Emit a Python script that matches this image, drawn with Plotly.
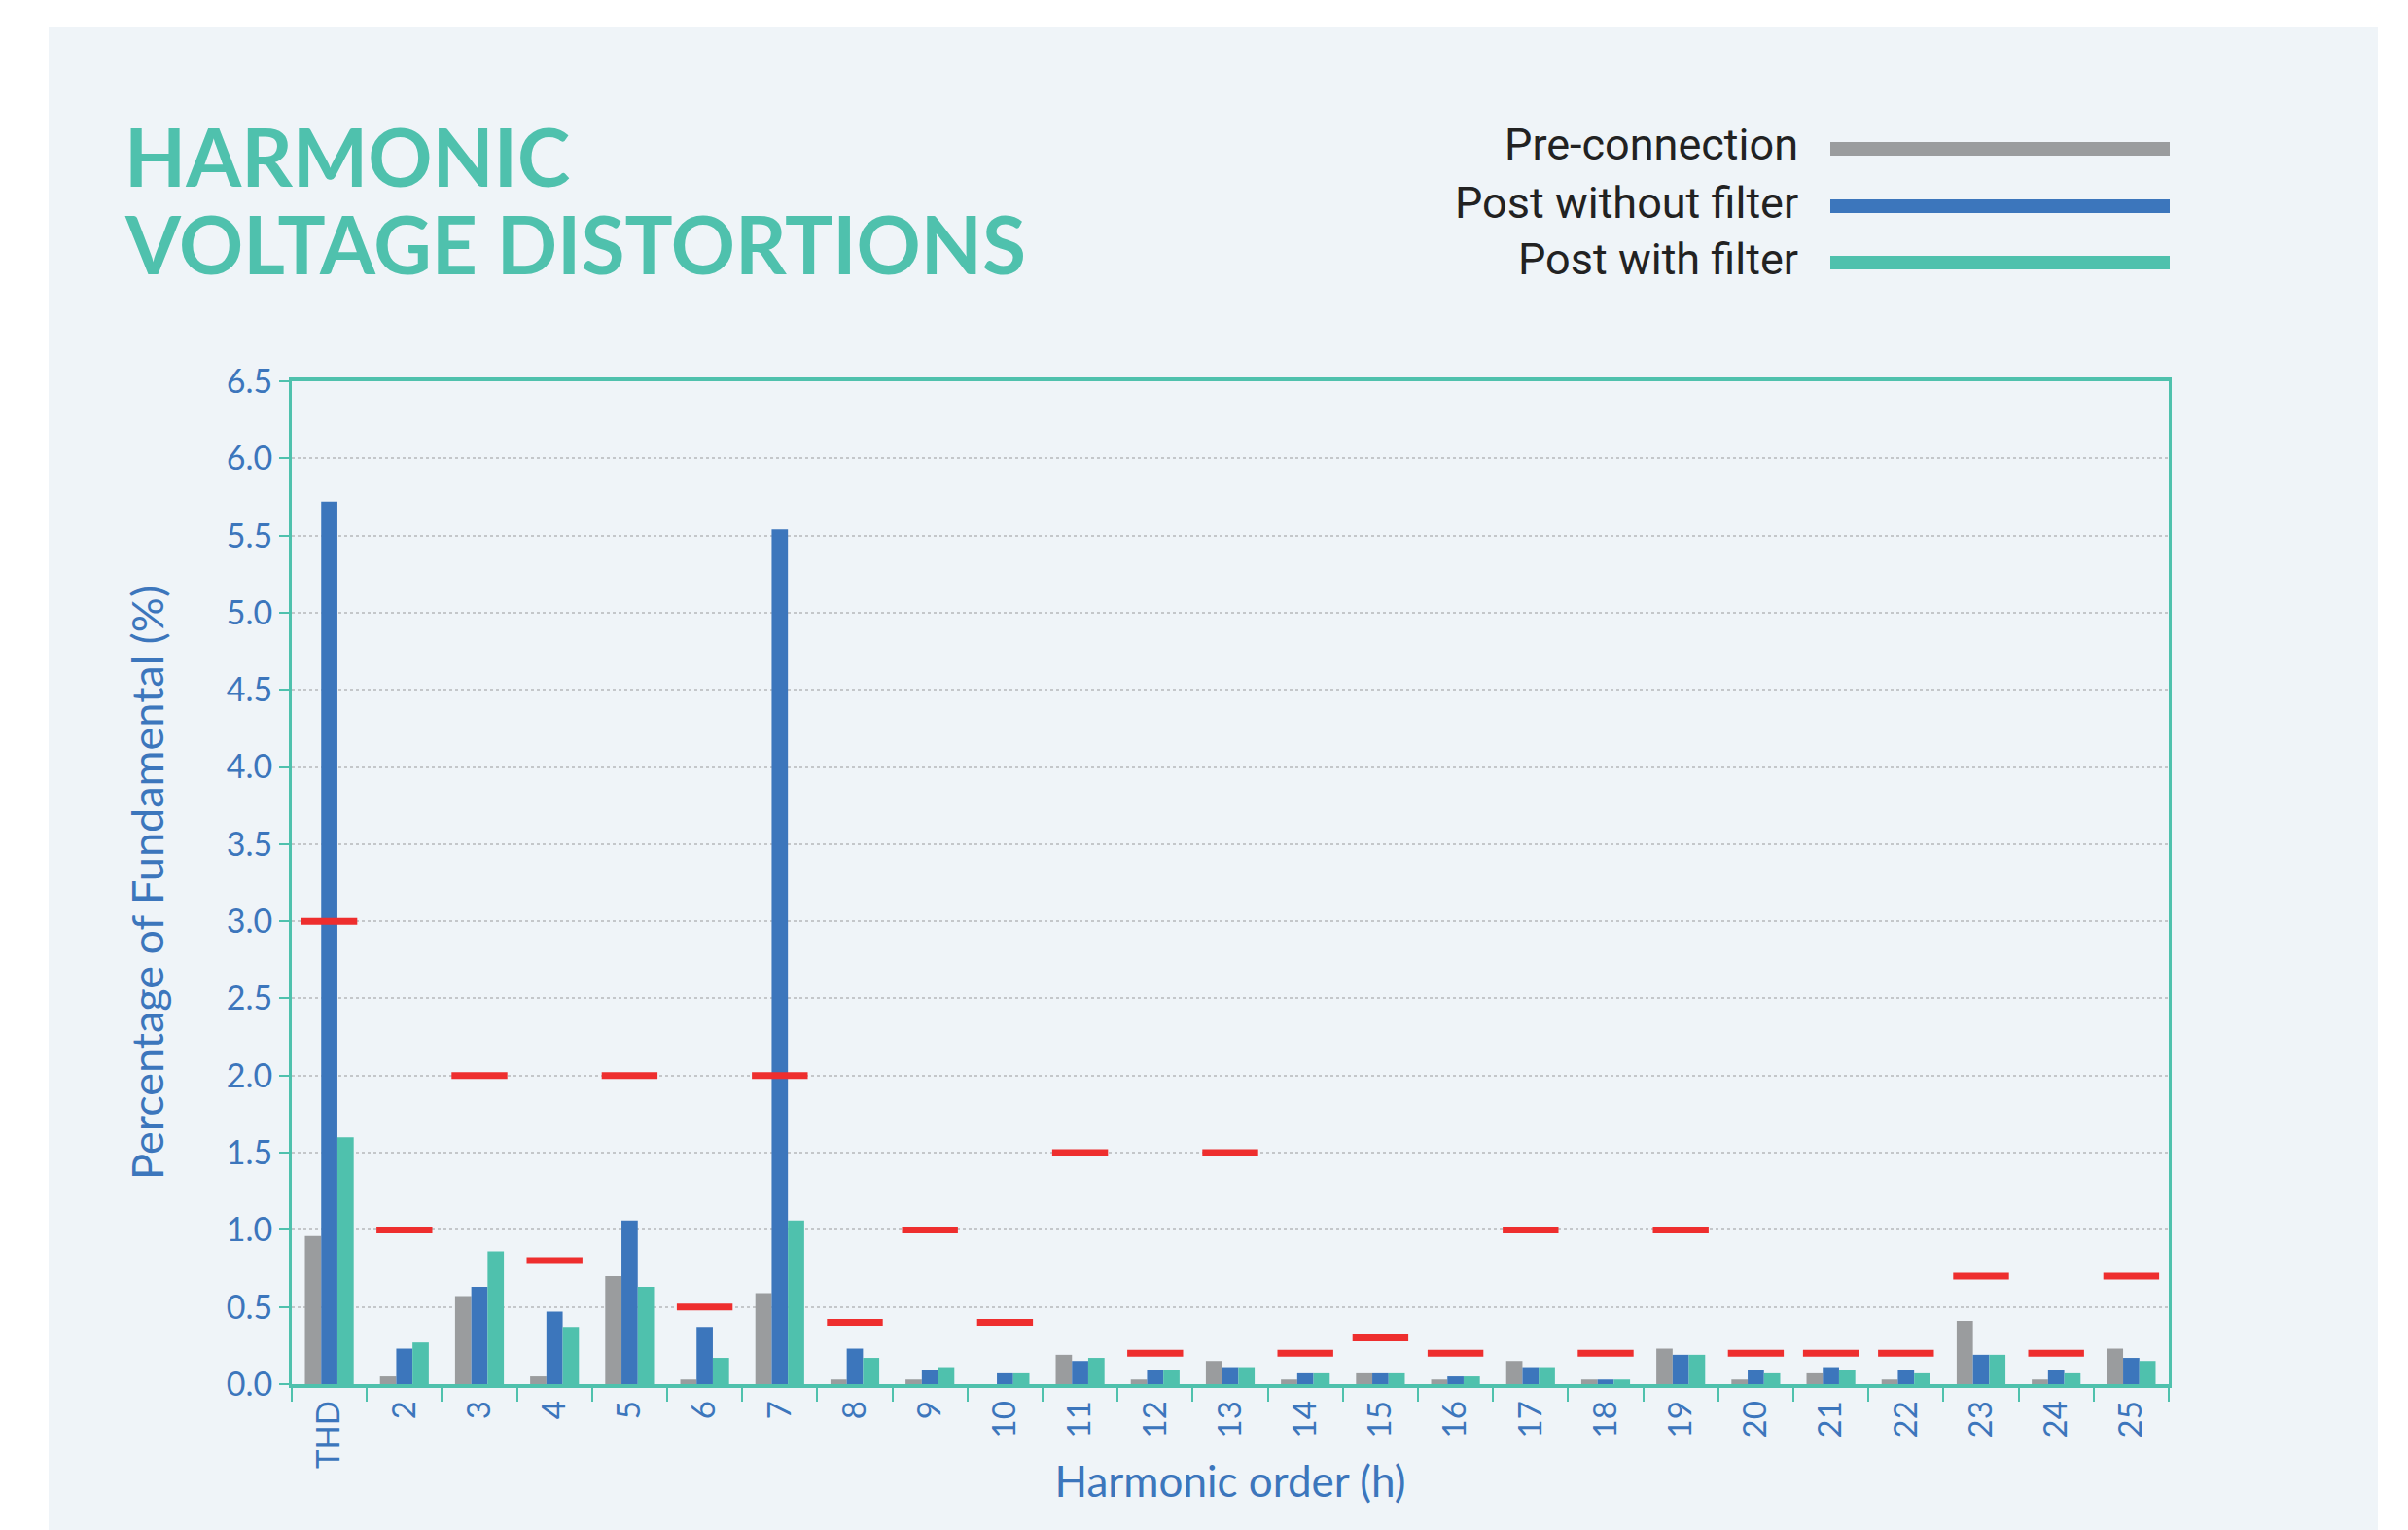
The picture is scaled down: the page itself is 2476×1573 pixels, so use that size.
import plotly.graph_objects as go

categories = ["THD"] + [str(h) for h in range(2, 26)]
pre_connection = [0.96, 0.05, 0.57, 0.05, 0.70, 0.03, 0.59, 0.03, 0.03, 0.00, 0.19, 0.03, 0.15,
                  0.03, 0.07, 0.03, 0.15, 0.03, 0.23, 0.03, 0.07, 0.03, 0.41, 0.03, 0.23]
post_without_filter = [5.72, 0.23, 0.63, 0.47, 1.06, 0.37, 5.54, 0.23, 0.09, 0.07, 0.15, 0.09, 0.11,
                       0.07, 0.07, 0.05, 0.11, 0.03, 0.19, 0.09, 0.11, 0.09, 0.19, 0.09, 0.17]
post_with_filter = [1.60, 0.27, 0.86, 0.37, 0.63, 0.17, 1.06, 0.17, 0.11, 0.07, 0.17, 0.09, 0.11,
                    0.07, 0.07, 0.05, 0.11, 0.03, 0.19, 0.07, 0.09, 0.07, 0.19, 0.07, 0.15]
limits = [3.0, 1.0, 2.0, 0.8, 2.0, 0.5, 2.0, 0.4, 1.0, 0.4, 1.5, 0.2, 1.5,
          0.2, 0.3, 0.2, 1.0, 0.2, 1.0, 0.2, 0.2, 0.2, 0.7, 0.2, 0.7]
y_ticks = [0.0, 0.5, 1.0, 1.5, 2.0, 2.5, 3.0, 3.5, 4.0, 4.5, 5.0, 5.5, 6.0, 6.5]

GRAY = "#9a9c9e"
BLUE = "#3c76bc"
TEAL = "#4fc1ad"
RED = "#ee2e2e"
PANEL = "#eff4f8"
AXIS_TXT = "#3c76bc"

W, H = 2476, 1573
ML, MR, MT, MB = 300, 246, 392, 150
PW, PH = W - ML - MR, H - MT - MB


def px_x(px):
    return (px - ML) / PW


def px_y(py):
    return (H - MB - py) / PH


series = [
    ("Pre-connection", pre_connection, GRAY),
    ("Post without filter", post_without_filter, BLUE),
    ("Post with filter", post_with_filter, TEAL),
]

fig = go.Figure()
for name, vals, col in series:
    fig.add_trace(go.Bar(x=categories, y=vals, name=name, marker_color=col,
                         marker_line_width=0, showlegend=False))

fig.add_trace(go.Scatter(x=categories, y=limits, mode="markers", name="Limit",
                         marker=dict(symbol="line-ew", size=41,
                                     line=dict(color=RED, width=7)),
                         showlegend=False))

shapes = [
    dict(type="rect", xref="paper", yref="paper", layer="below",
         x0=px_x(50), x1=px_x(2445), y0=px_y(1573), y1=px_y(28),
         fillcolor=PANEL, line_width=0),
]
annotations = [
    dict(xref="paper", yref="paper", x=px_x(126), y=px_y(160), xanchor="left", yanchor="middle",
         text="HARMONIC", showarrow=False, align="left",
         font=dict(family="Lato", size=82, color=TEAL, weight="bold")),
    dict(xref="paper", yref="paper", x=px_x(126), y=px_y(250), xanchor="left", yanchor="middle",
         text="VOLTAGE DISTORTIONS", showarrow=False, align="left",
         font=dict(family="Lato", size=82, color=TEAL, weight="bold")),
]
legend_rows = [153, 212, 270]
for (name, vals, col), ry in zip(series, legend_rows):
    shapes.append(dict(type="line", xref="paper", yref="paper",
                       x0=px_x(1882), x1=px_x(2231), y0=px_y(ry), y1=px_y(ry),
                       line=dict(color=col, width=14)))
    annotations.append(dict(xref="paper", yref="paper", x=px_x(1851), y=px_y(ry - 4),
                            xanchor="right", yanchor="middle", text=name, showarrow=False,
                            font=dict(family="Roboto", size=45, color="#222222")))

fig.update_layout(
    width=W, height=H,
    margin=dict(l=ML, r=MR, t=MT, b=MB),
    paper_bgcolor="white",
    plot_bgcolor=PANEL,
    barmode="group",
    bargap=0.35,
    bargroupgap=0,
    shapes=shapes,
    annotations=annotations,
    font=dict(family="Lato", color=AXIS_TXT),
    xaxis=dict(
        type="category",
        range=[-0.5, len(categories) - 0.5],
        tickangle=-90,
        tickson="boundaries",
        ticks="outside",
        ticklen=14,
        tickwidth=2,
        tickcolor=TEAL,
        tickfont=dict(size=33, color=AXIS_TXT),
        showline=True, linecolor=TEAL, linewidth=4, mirror=True,
        showgrid=False,
        title=dict(text="Harmonic order (h)", font=dict(size=44, color=AXIS_TXT), standoff=0),
    ),
    yaxis=dict(
        range=[0, 6.5],
        tickvals=y_ticks,
        tickformat=".1f",
        ticks="outside",
        ticklen=10,
        tickwidth=2,
        tickcolor=TEAL,
        tickfont=dict(size=34, color=AXIS_TXT),
        showline=True, linecolor=TEAL, linewidth=3, mirror=True,
        showgrid=True, gridcolor="#c4c7ca", gridwidth=1.5, griddash="dot",
        zeroline=False,
        title=dict(text="Percentage of Fundamental (%)", font=dict(size=45, color=AXIS_TXT), standoff=50),
    ),
)

fig.write_html("out.html")
